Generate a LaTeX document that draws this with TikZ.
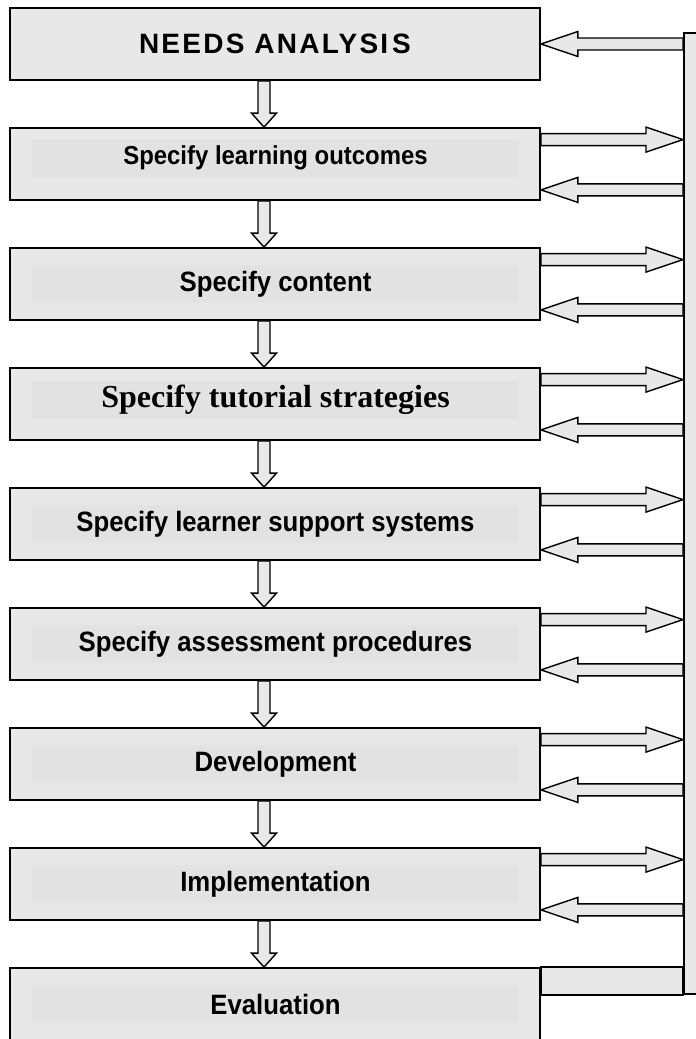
\documentclass[tikz,border=0pt]{standalone}
\usepackage{fontspec}
\setmainfont{Liberation Sans}
\newfontfamily\narrowsf[FakeStretch=0.92]{Liberation Sans}
\newfontfamily\serifbf{Liberation Serif}
\usetikzlibrary{calc}
\definecolor{boxgray}{gray}{0.91}
\definecolor{bandgray}{gray}{0.885}

\newcommand\fatarrow[3][14pt]{%
	\coordinate (fa-s) at #2;
	\coordinate (fa-e) at #3;
	\coordinate (fa-h) at ($(fa-e)!#1!(fa-s)$);
	\filldraw[hollow] ($(fa-s)!6pt!90:(fa-e)$) -- ($(fa-h)!6pt!90:(fa-e)$)
		-- ($(fa-h)!12.5pt!90:(fa-e)$) -- (fa-e) -- ($(fa-h)!12.5pt!-90:(fa-e)$)
		-- ($(fa-h)!6pt!-90:(fa-e)$) -- ($(fa-s)!6pt!-90:(fa-e)$) -- cycle;}

\begin{document}
\begin{tikzpicture}[x=1pt,y=-1pt,
		stage/.style={draw,line width=1.8pt,fill=boxgray,minimum width=530pt,minimum height=72pt,inner sep=0pt},
		band/.style={fill=bandgray,minimum width=487pt,minimum height=38pt,inner sep=0pt,font=\narrowsf\bfseries\fontsize{28}{30}\selectfont},
		hollow/.style={draw,line width=1.4pt,fill=boxgray,line join=miter}]
	\useasboundingbox (0,0) rectangle (696,1039);
	\node[stage,font=\bfseries\fontsize{28}{30}\selectfont] (n1) at (275,44) {\addfontfeature{LetterSpace=8}NEEDS ANALYSI\hspace{4pt}S};
	\node[stage] (n2) at (275,164) {};
	\node[stage] (n3) at (275,284) {};
	\node[stage] (n4) at (275,404) {};
	\node[stage] (n5) at (275,524) {};
	\node[stage] (n6) at (275,644) {};
	\node[stage] (n7) at (275,764) {};
	\node[stage] (n8) at (275,884) {};
	\node[stage] (n9) at (275,1004) {};
	\node[band,font=\narrowsf\bfseries\fontsize{26}{28}\selectfont] (b2) at (275.5,158) {Specify learning outcomes};
	\node[band] (b3) at (275.5,284) {Specify content};
	\node[band,font=\serifbf\bfseries\fontsize{32}{34}\selectfont] (b4) at (275.5,400) {Specify tutorial strategies};
	\node[band] (b5) at (275.5,524) {Specify learner support systems};
	\node[band] (b6) at (275.5,644) {Specify assessment procedures};
	\node[band] (b7) at (275.5,764) {Development};
	\node[band] (b8) at (275.5,884) {Implementation};
	\node[band] (b9) at (275.5,1004) {Evaluation};
	\node[stage,minimum width=30pt,minimum height=961pt,anchor=north west] (bar) at (683,32) {};
	\draw[stage] (n9.north east) rectangle (bar.south west);
	\foreach \i in {1,...,8}{
		\pgfmathtruncatemacro\j{\i+1}
		\fatarrow{($(n\i.south)+(-11,0)$)}{($(n\j.north)+(-11,0)$)}
	}
	\foreach \i in {2,...,8}{
		\fatarrow[37pt]{($(n\i.north east)+(0,12.5)$)}{($(n\i.north east -| bar.west)+(0,12.5)$)}
		\fatarrow[37pt]{($(n\i.south east -| bar.west)+(0,-11)$)}{($(n\i.south east)+(0,-11)$)}
	}
	\fatarrow[37pt]{(n1.east -| bar.west)}{(n1.east)}
\end{tikzpicture}
\end{document}
